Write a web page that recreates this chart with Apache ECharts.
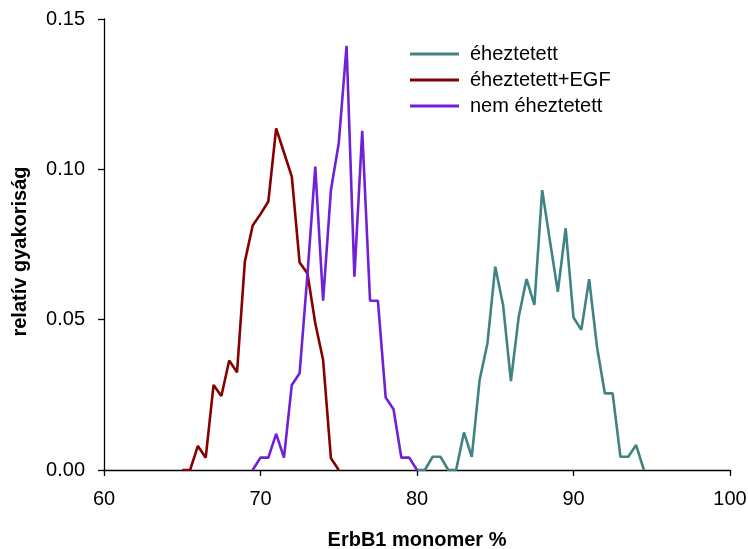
<!DOCTYPE html>
<html>
<head>
<meta charset="utf-8">
<script src="https://cdn.jsdelivr.net/npm/echarts@6/dist/echarts.min.js"></script>
<style>
  html, body { margin: 0; padding: 0; background: #fff; }
  #chart { width: 748px; height: 549px; }
</style>
</head>
<body>
<div id="chart"></div>
<script>
// Series names
const seriesNames = ['éheztetett', 'éheztetett+EGF', 'nem éheztetett'];

// éheztetett (starved)
const starvedX = [80.0, 80.5, 81.0, 81.5, 82.0, 82.5, 83.0, 83.5, 84.0, 84.5, 85.0, 85.5, 86.0, 86.5, 87.0, 87.5, 88.0, 88.5, 89.0, 89.5, 90.0, 90.5, 91.0, 91.5, 92.0, 92.5, 93.0, 93.5, 94.0, 94.5];
const starvedY = [0, 0, 0.0044, 0.0044, 0, 0, 0.0125, 0.0044, 0.0299, 0.0421, 0.0676, 0.0549, 0.0296, 0.0510, 0.0635, 0.0549, 0.0931, 0.0760, 0.0593, 0.0804, 0.0507, 0.0466, 0.0635, 0.0410, 0.0255, 0.0255, 0.0044, 0.0044, 0.0083, 0];

// éheztetett+EGF (starved + EGF)
const egfX = [65.0, 65.5, 66.0, 66.5, 67.0, 67.5, 68.0, 68.5, 69.0, 69.5, 70.0, 70.5, 71.0, 71.5, 72.0, 72.5, 73.0, 73.5, 74.0, 74.5, 75.0];
const egfY = [0, 0, 0.0080, 0.0041, 0.0283, 0.0246, 0.0364, 0.0325, 0.0693, 0.0813, 0.0851, 0.0893, 0.1136, 0.1056, 0.0976, 0.0690, 0.0654, 0.0488, 0.0366, 0.0039, 0];

// nem éheztetett (not starved)
const ctrlX = [69.5, 70.0, 70.5, 71.0, 71.5, 72.0, 72.5, 73.0, 73.5, 74.0, 74.5, 75.0, 75.5, 76.0, 76.5, 77.0, 77.5, 78.0, 78.5, 79.0, 79.5, 80.0];
const ctrlY = [0, 0.0041, 0.0041, 0.0120, 0.0041, 0.0283, 0.0322, 0.0650, 0.1009, 0.0563, 0.0931, 0.1087, 0.1411, 0.0643, 0.1128, 0.0563, 0.0563, 0.0241, 0.0202, 0.0041, 0.0041, 0];

// Axis ticks
const xTicks = [60, 70, 80, 90, 100];
const yTicks = [0, 0.05, 0.10, 0.15];

const colors = ['#408383', '#870000', '#7020d6'];
const font = 'Arial';

function pairs(xs, ys) { return xs.map((x, i) => [x, ys[i]]); }

const chart = echarts.init(document.getElementById('chart'), null, { renderer: 'canvas' });

chart.setOption({
  animation: false,
  backgroundColor: '#ffffff',
  textStyle: { fontFamily: font },
  grid: { left: 104, right: 18, top: 19, bottom: 79, containLabel: false, outerBoundsMode: 'none' },
  legend: {
    orient: 'vertical',
    left: 405,
    top: 39,
    itemWidth: 49,
    itemHeight: 3,
    itemGap: 6,
    icon: 'rect',
    textStyle: { fontSize: 20, color: '#000', fontFamily: font, padding: [0, 0, 0, 6] },
    data: seriesNames
  },
  xAxis: {
    type: 'value',
    min: xTicks[0],
    max: xTicks[xTicks.length - 1],
    interval: 10,
    name: 'ErbB1 monomer %',
    nameLocation: 'middle',
    nameGap: 60,
    nameTextStyle: { fontSize: 20, fontWeight: 'bold', color: '#000', fontFamily: font },
    axisLine: { show: true, lineStyle: { color: '#000', width: 1.3 } },
    axisTick: { show: true, inside: false, length: 6, lineStyle: { color: '#000', width: 1.3 } },
    axisLabel: { fontSize: 20, color: '#000', margin: 19, fontFamily: font },
    splitLine: { show: false }
  },
  yAxis: {
    type: 'value',
    min: yTicks[0],
    max: yTicks[yTicks.length - 1],
    interval: 0.05,
    name: 'relatív gyakoriság',
    nameLocation: 'middle',
    nameGap: 74,
    nameTextStyle: { fontSize: 20, fontWeight: 'bold', color: '#000', fontFamily: font, padding: [0, 14, 0, 0] },
    axisLine: { show: true, lineStyle: { color: '#000', width: 1.3 } },
    axisTick: { show: true, inside: false, length: 6, lineStyle: { color: '#000', width: 1.3 } },
    axisLabel: { fontSize: 20, color: '#000', margin: 19, fontFamily: font, formatter: v => v.toFixed(2) },
    splitLine: { show: false }
  },
  series: [
    { name: seriesNames[0], type: 'line', data: pairs(starvedX, starvedY), showSymbol: false, symbol: 'none', color: colors[0], lineStyle: { width: 2.6, color: colors[0] } },
    { name: seriesNames[1], type: 'line', data: pairs(egfX, egfY), showSymbol: false, symbol: 'none', color: colors[1], lineStyle: { width: 2.6, color: colors[1] } },
    { name: seriesNames[2], type: 'line', data: pairs(ctrlX, ctrlY), showSymbol: false, symbol: 'none', color: colors[2], lineStyle: { width: 2.6, color: colors[2] } }
  ]
});
</script>
</body>
</html>
